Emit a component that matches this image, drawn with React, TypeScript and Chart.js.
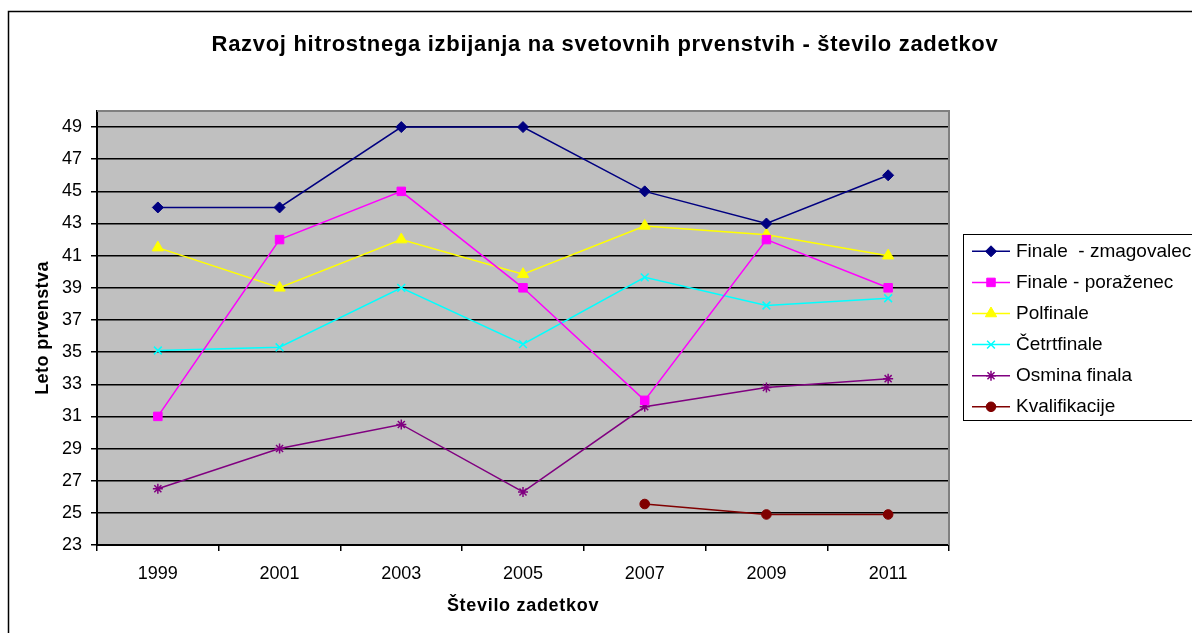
import React, { useEffect, useRef } from 'react';
import { Chart, registerables } from 'chart.js';
import { drawPoint } from 'chart.js/helpers';

Chart.register(...registerables);

// ---- data ----
const years = ['1999', '2001', '2003', '2005', '2007', '2009', '2011'];
const yTickValues = [23, 25, 27, 29, 31, 33, 35, 37, 39, 41, 43, 45, 47, 49];

const finaleZmagovalec = [44, 44, 49, 49, 45, 43, 46];
const finalePorazenec = [31, 42, 45, 39, 32, 42, 39];
const polfinale = [41.5, 39, 42, 39.85, 42.85, 42.3, 41];
const cetrtfinale = [35.1, 35.3, 39, 35.5, 39.65, 37.9, 38.35];
const osminaFinala = [26.5, 29, 30.5, 26.3, 31.6, 32.8, 33.35];
const kvalifikacije = [null, null, null, null, 25.55, 24.9, 24.9];

const seriesNames = [
  'Finale  - zmagovalec',
  'Finale - poraženec',
  'Polfinale',
  'Četrtfinale',
  'Osmina finala',
  'Kvalifikacije',
];

const chartTitle = 'Razvoj hitrostnega izbijanja na svetovnih prvenstvih - število zadetkov';
const yTitle = 'Leto prvenstva';
const xTitle = 'Število zadetkov';

const FONT = "'Liberation Sans', Arial, Helvetica, sans-serif";

const decorPlugin = {
  id: 'decor',
  beforeDraw(chart: any) {
    const { ctx, chartArea: a, width, height } = chart;
    ctx.save();
    ctx.fillStyle = '#ffffff';
    ctx.fillRect(0, 0, width, height);
    ctx.fillStyle = '#C0C0C0';
    ctx.fillRect(a.left, a.top, a.right - a.left, a.bottom - a.top);
    ctx.strokeStyle = '#000000';
    ctx.lineWidth = 1.5;
    ctx.strokeRect(8.5, 11.5, width + 20, height + 20);
    ctx.restore();
  },
  afterDraw(chart: any) {
    const { ctx, chartArea: a } = chart;
    ctx.save();
    // gray top / right plot border
    ctx.strokeStyle = '#808080';
    ctx.lineWidth = 2;
    ctx.beginPath();
    ctx.moveTo(a.left, a.top);
    ctx.lineTo(a.right, a.top);
    ctx.lineTo(a.right, a.bottom);
    ctx.stroke();

    // title
    ctx.fillStyle = '#000000';
    ctx.textBaseline = 'middle';
    ctx.textAlign = 'center';
    ctx.font = `bold 22px ${FONT}`;
    (ctx as any).letterSpacing = '0.7px';
    ctx.fillText(chartTitle, 605, 45);

    // x title
    ctx.font = `bold 18px ${FONT}`;
    (ctx as any).letterSpacing = '0.7px';
    ctx.fillText(xTitle, (a.left + a.right) / 2, 606);

    // y title
    (ctx as any).letterSpacing = '0.4px';
    ctx.save();
    ctx.translate(43, (a.top + a.bottom) / 2);
    ctx.rotate(-Math.PI / 2);
    ctx.fillText(yTitle, 0, 0);
    ctx.restore();
    (ctx as any).letterSpacing = '0px';

    // legend
    ctx.strokeStyle = '#000000';
    ctx.lineWidth = 1;
    ctx.strokeRect(963.5, 234.5, 300, 186);
    ctx.textAlign = 'left';
    ctx.font = `19px ${FONT}`;
    chart.data.datasets.forEach((ds: any, i: number) => {
      const y = 251.3 + i * 31.1;
      ctx.strokeStyle = ds.borderColor;
      ctx.lineWidth = ds.borderWidth;
      ctx.beginPath();
      ctx.moveTo(972, y);
      ctx.lineTo(1010, y);
      ctx.stroke();
      ctx.fillStyle = ds.pointBackgroundColor;
      ctx.strokeStyle = ds.pointBorderColor;
      ctx.lineWidth = ds.pointBorderWidth;
      drawPoint(ctx, {
        pointStyle: ds.pointStyle,
        rotation: 0,
        radius: ds.pointRadius,
        borderWidth: ds.pointBorderWidth,
      } as any, 991, y);
      ctx.fillStyle = '#000000';
      ctx.fillText(ds.label, 1016, y);
    });
    ctx.restore();
  },
};

function makeDataset(label: string, data: (number | null)[], color: string, style: string, radius: number, bw: number) {
  return {
    label,
    data,
    borderColor: color,
    backgroundColor: color,
    borderWidth: 1.5,
    pointStyle: style,
    pointRadius: radius,
    pointHoverRadius: radius,
    pointBackgroundColor: color,
    pointBorderColor: color,
    pointBorderWidth: bw,
    tension: 0,
    spanGaps: false,
  };
}

export default function App() {
  const ref = useRef<HTMLCanvasElement | null>(null);
  useEffect(() => {
    if (!ref.current) return;
    const chart = new Chart(ref.current, {
      type: 'line',
      data: {
        labels: years,
        datasets: [
          makeDataset(seriesNames[0], finaleZmagovalec, '#000080', 'rectRot', 5.5, 1),
          makeDataset(seriesNames[1], finalePorazenec, '#FF00FF', 'rect', 6, 1),
          makeDataset(seriesNames[2], polfinale, '#FFFF00', 'triangle', 6.5, 1),
          makeDataset(seriesNames[3], cetrtfinale, '#00FFFF', 'crossRot', 5.5, 1.5),
          makeDataset(seriesNames[4], osminaFinala, '#800080', 'star', 5, 1.5),
          makeDataset(seriesNames[5], kvalifikacije, '#800000', 'circle', 4.8, 1),
        ] as any,
      },
      options: {
        animation: false,
        responsive: false,
        devicePixelRatio: 1,
        events: [],
        layout: { padding: { left: 0, top: 111, right: 243, bottom: 0 } },
        plugins: {
          legend: { display: false },
          title: { display: false },
          tooltip: { enabled: false },
        },
        scales: {
          x: {
            type: 'category',
            offset: true,
            grid: {
              offset: true,
              drawOnChartArea: false,
              drawTicks: true,
              tickLength: 6,
              color: '#000000',
              lineWidth: 1.5,
            },
            border: { display: true, color: '#000000', width: 2 },
            ticks: { color: '#000000', font: { family: FONT, size: 18 }, padding: 12, maxRotation: 0, autoSkip: false },
            afterFit: (s: any) => { s.height = 88; },
          },
          y: {
            type: 'linear',
            min: 23,
            max: 50,
            afterBuildTicks: (s: any) => { s.ticks = yTickValues.map((v) => ({ value: v })); },
            grid: { color: '#000000', lineWidth: 1.5, tickLength: 6, drawTicks: true },
            border: { display: true, color: '#000000', width: 2 },
            ticks: { color: '#000000', font: { family: FONT, size: 18 }, padding: 9 },
            afterFit: (s: any) => { s.width = 97; },
          },
        },
      } as any,
      plugins: [decorPlugin],
    });
    return () => chart.destroy();
  }, []);
  return (
    <div style={{ position: 'fixed', left: 0, top: 0, width: 1192, height: 633, background: '#fff' }}>
      <canvas ref={ref} width={1192} height={633} style={{ display: 'block' }} />
    </div>
  );
}
